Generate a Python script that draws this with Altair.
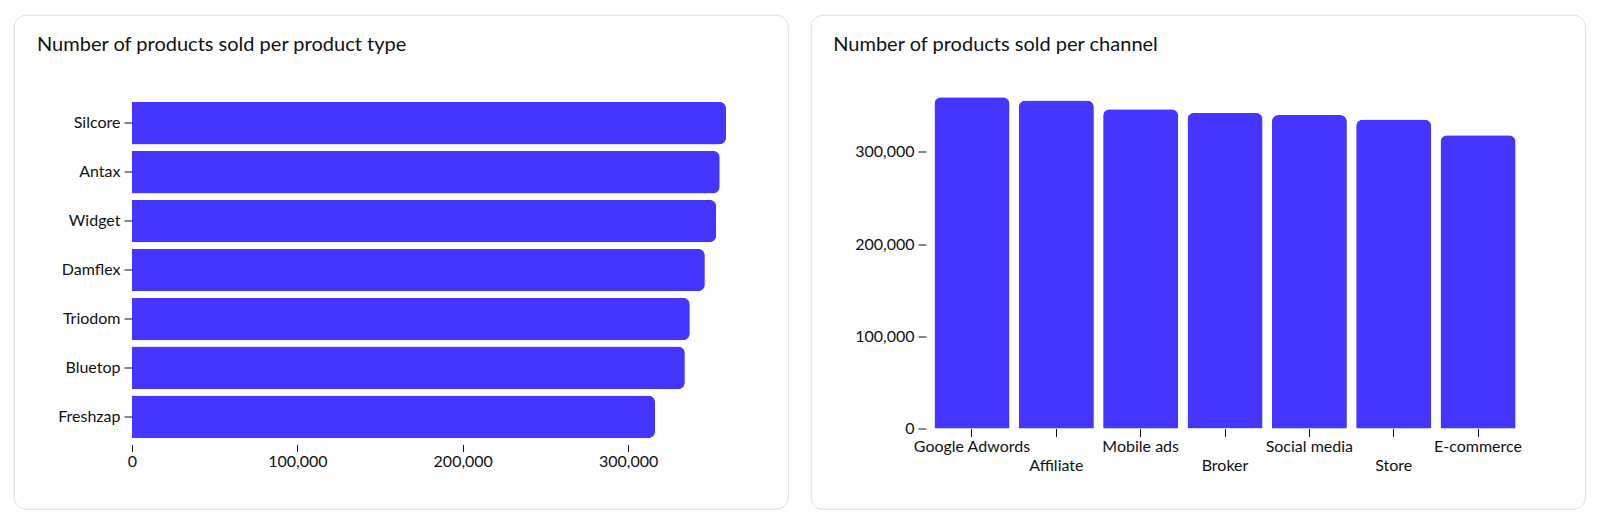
import json

import altair as alt
import pandas as pd

# left panel: product types, top to bottom
product_types = ["Silcore", "Antax", "Widget", "Damflex", "Triodom", "Bluetop", "Freshzap"]
product_sold = [359200, 355400, 353300, 346400, 337300, 334300, 316300]

# right panel: sales channels, left to right
channels = ["Google Adwords", "Affiliate", "Mobile ads", "Broker", "Social media", "Store", "E-commerce"]
channel_sold = [359000, 355700, 346000, 342400, 339800, 335100, 317800]

# channel labels that sit on the second (lower) row
second_row = ["Affiliate", "Broker", "Store"]
tick_values = [0, 100000, 200000, 300000]
channel_domain = [0, 361000]

BAR = "#4436FF"
FONT = "Lato"
TEXT = "#111111"


def card(x, x2, y, y2):
    """White rounded card drawn behind a panel (pixel offsets from the plot origin)."""
    return alt.Chart(pd.DataFrame({"card": [0]})).mark_rect(
        fill="white", stroke="#dcdcdc", strokeWidth=1, cornerRadius=12
    ).encode(x=alt.value(x), x2=alt.value(x2), y=alt.value(y), y2=alt.value(y2))


def panel_title(text, dx):
    return alt.TitleParams(
        text, anchor="start", frame="group", dx=dx, offset=-56.5,
        baseline="alphabetic", font=FONT, fontSize=20, fontWeight="normal", color=TEXT,
    )


def make_type_chart() -> alt.LayerChart:
    df = pd.DataFrame({"type": product_types, "sold": product_sold})
    bars = alt.Chart(df).mark_bar(color=BAR, cornerRadiusEnd=7).encode(
        x=alt.X("sold:Q", title=None, scale=alt.Scale(nice=False, zero=True),
                axis=alt.Axis(values=tick_values, format=",.0f", tickSize=7, labelPadding=2,
                              labelFlush=False, zindex=2)),
        y=alt.Y("type:N", title=None, sort=product_types,
                scale=alt.Scale(paddingInner=0.13, paddingOuter=0.13),
                axis=alt.Axis(tickSize=8, labelPadding=4, zindex=2)),
    )
    return alt.layer(card(-117.7, 656.3, -80.3, 413.7), bars).properties(
        width=594, height=349, title=panel_title("Number of products sold per product type", -95)
    )


def make_channel_chart() -> alt.LayerChart:
    df = pd.DataFrame({"channel": channels, "sold": channel_sold})
    # second-row labels get a bigger padding so they drop below the first row
    stagger = "indexof(" + json.dumps(second_row) + ", datum.value) >= 0"
    bars = alt.Chart(df).mark_bar(color=BAR, cornerRadiusEnd=7).encode(
        x=alt.X("channel:N", title=None, sort=channels,
                scale=alt.Scale(paddingInner=0.11, paddingOuter=0.1),
                axis=alt.Axis(labelAngle=0, tickSize=8, labelOverlap=False, zindex=2,
                              labelPadding={"condition": {"test": stagger, "value": 21}, "value": 2})),
        y=alt.Y("sold:Q", title=None, scale=alt.Scale(domain=channel_domain, nice=False),
                axis=alt.Axis(values=tick_values, format=",.0f", tickSize=8, labelPadding=4,
                              labelFlush=False, zindex=2)),
    )
    return alt.layer(card(-114.8, 659.5, -80.3, 413.7), bars).properties(
        width=598, height=333, title=panel_title("Number of products sold per channel", -92.8)
    )


if __name__ == "__main__":
    chart = alt.hconcat(make_type_chart(), make_channel_chart(), spacing=21).properties(
        padding={"left": 5, "top": 6.5, "right": 5, "bottom": 5}
    ).configure_view(
        strokeWidth=0
    ).configure_axis(
        domain=False, grid=False, labelFont=FONT, labelFontSize=16, labelColor=TEXT,
        tickColor=TEXT, tickWidth=1
    )
    chart.save("out.html", embed_options={"renderer": "svg", "actions": False})
